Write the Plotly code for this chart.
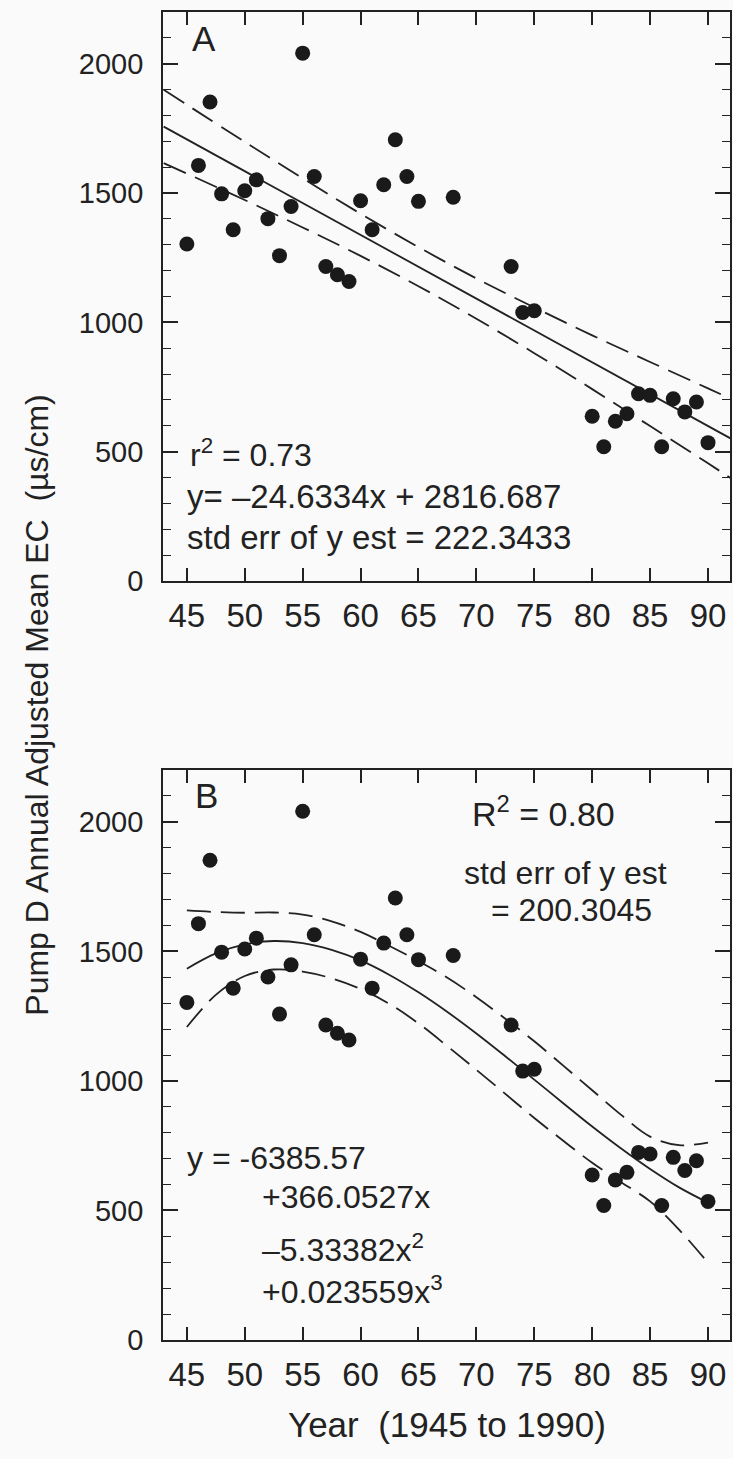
import plotly.graph_objects as go

# ---------------- data ----------------
years = [45, 46, 47, 48, 49, 50, 51, 52, 53, 54, 55, 56, 57, 58, 59, 60, 61, 62, 63, 64, 65,
         68, 73, 74, 75, 80, 81, 82, 83, 84, 85, 86, 87, 88, 89, 90]
ec = [1303, 1607, 1852, 1497, 1358, 1509, 1551, 1401, 1258, 1448, 2041, 1564, 1216, 1184, 1158,
      1470, 1358, 1532, 1706, 1564, 1468, 1484, 1216, 1038, 1045, 637, 519, 618, 647, 724, 718,
      519, 705, 654, 692, 535]

# Panel A: linear fit and its dashed band
lin_x = [43, 92]
lin_y = [1757, 550]
band_a_x = [43, 50, 55, 60, 65, 70, 75, 80, 85, 90, 92]
band_a_up = [1899, 1698, 1557, 1420, 1291, 1170, 1058, 950, 847, 745, 704]
band_a_lo = [1616, 1473, 1367, 1257, 1140, 1014, 881, 742, 599, 455, 397]

# Panel B: cubic fit and its dashed band
cub_x = [45, 47.5, 50, 52.5, 55, 57.5, 60, 62.5, 65, 67.5, 70, 72.5, 75, 77.5, 80, 82.5, 85, 87.5, 90]
cub_y = [1433, 1492, 1527, 1540, 1532, 1506, 1465, 1409, 1342, 1266, 1183, 1095, 1005, 914, 824,
         739, 660, 589, 530]
band_b_up = [1658, 1652, 1649, 1650, 1642, 1616, 1575, 1521, 1462, 1398, 1323, 1240, 1153, 1059,
             964, 869, 785, 752, 762]
band_b_lo = [1208, 1332, 1405, 1430, 1422, 1396, 1355, 1297, 1222, 1134, 1043, 950, 857, 769, 684,
             609, 535, 426, 298]

x_ticks = [45, 50, 55, 60, 65, 70, 75, 80, 85, 90]
y_ticks = [0, 500, 1000, 1500, 2000]

# ---------------- styling ----------------
INK = "#222222"
FONT = "Liberation Sans, Arial, sans-serif"
DASH = "24px,10px"

fig = go.Figure()

def add_panel(xa, ya, fit_x, fit_y, bx, bup, blo, smooth):
    shape = "spline" if smooth else "linear"
    fig.add_trace(go.Scatter(x=fit_x, y=fit_y, mode="lines", xaxis=xa, yaxis=ya,
                             line=dict(color=INK, width=1.8, shape=shape), showlegend=False))
    fig.add_trace(go.Scatter(x=bx, y=bup, mode="lines", xaxis=xa, yaxis=ya,
                             line=dict(color=INK, width=1.8, dash=DASH, shape="spline"),
                             showlegend=False))
    fig.add_trace(go.Scatter(x=bx, y=blo, mode="lines", xaxis=xa, yaxis=ya,
                             line=dict(color=INK, width=1.8, dash=DASH, shape="spline"),
                             showlegend=False))
    fig.add_trace(go.Scatter(x=years, y=ec, mode="markers", xaxis=xa, yaxis=ya,
                             marker=dict(color="#1a1a1a", size=15, line=dict(width=0)),
                             showlegend=False, cliponaxis=False))

add_panel("x", "y", lin_x, lin_y, band_a_x, band_a_up, band_a_lo, False)
add_panel("x2", "y2", cub_x, cub_y, cub_x, band_b_up, band_b_lo, True)

xr = [42.94, 91.9]
yr = [0, 2200]

def xaxis(anchor):
    return dict(range=xr, tickvals=x_ticks, ticktext=[str(v) for v in x_ticks],
                ticks="inside", ticklen=13, tickwidth=1.6, tickcolor=INK,
                showline=True, linecolor=INK, linewidth=1.8, mirror="ticks",
                showgrid=False, zeroline=False, anchor=anchor,
                tickfont=dict(family=FONT, size=33, color=INK), ticklabelstandoff=4)

def yaxis(anchor, domain):
    return dict(range=yr, domain=domain, tickvals=y_ticks, ticktext=[str(v) for v in y_ticks],
                ticks="inside", ticklen=15, tickwidth=1.6, tickcolor=INK,
                minor=dict(dtick=100, tick0=0, ticks="inside", ticklen=8, tickwidth=1.4,
                           tickcolor=INK, showgrid=False),
                showline=True, linecolor=INK, linewidth=1.8, mirror="ticks",
                showgrid=False, zeroline=False, anchor=anchor,
                tickfont=dict(family=FONT, size=29, color=INK), ticklabelstandoff=12)

fig.update_layout(
    width=733, height=1459,
    margin=dict(l=163, r=1, t=12, b=119),
    paper_bgcolor="#fafafa", plot_bgcolor="#fafafa",
    xaxis=xaxis("y"), yaxis=yaxis("x", [0.5715, 1.0]),
    xaxis2=xaxis("y2"), yaxis2=yaxis("x2", [0.0, 0.4292]),
    font=dict(family=FONT, color=INK),
)

def note(text, x, y, xref, yref, size=32, xanchor="left", angle=0):
    fig.add_annotation(text=text, x=x, y=y, xref=xref, yref=yref, showarrow=False,
                       xanchor=xanchor, yanchor="middle", textangle=angle,
                       font=dict(family=FONT, size=size, color=INK))

# panel A texts
note("A", 46.47, 2096, "x", "y", size=35, xanchor="center")
note("r<sup>2</sup> = 0.73", 45.1, 495, "x", "y")
note("y= \u201324.6334x + 2816.687", 44.8, 325, "x", "y", size=33)
note("std err of y est = 222.3433", 44.8, 170, "x", "y", size=33)

# panel B texts
note("B", 46.73, 2100, "x2", "y2", size=35, xanchor="center")
note("R<sup>2</sup> = 0.80", 75.8, 2038, "x2", "y2", size=34, xanchor="center")
note("std err of y est", 77.7, 1802, "x2", "y2", xanchor="center")
note("= 200.3045", 78.2, 1660, "x2", "y2", xanchor="center")
note("y = -6385.57", 44.8, 702, "x2", "y2")
note("+366.0527x", 51.3, 552, "x2", "y2")
note("\u20135.33382x<sup>2</sup>", 51.3, 355, "x2", "y2")
note("+0.023559x<sup>3</sup>", 51.3, 193, "x2", "y2")

# axis titles
note("Year\u00a0\u00a0(1945 to 1990)", 0.501, -0.064, "paper", "paper", size=35, xanchor="center")
note("Pump D Annual Adjusted Mean EC\u00a0\u00a0(\u00b5s/cm)", -0.2214, 0.478, "paper", "paper",
     size=32, xanchor="center", angle=-90)

fig.write_html("out.html")
